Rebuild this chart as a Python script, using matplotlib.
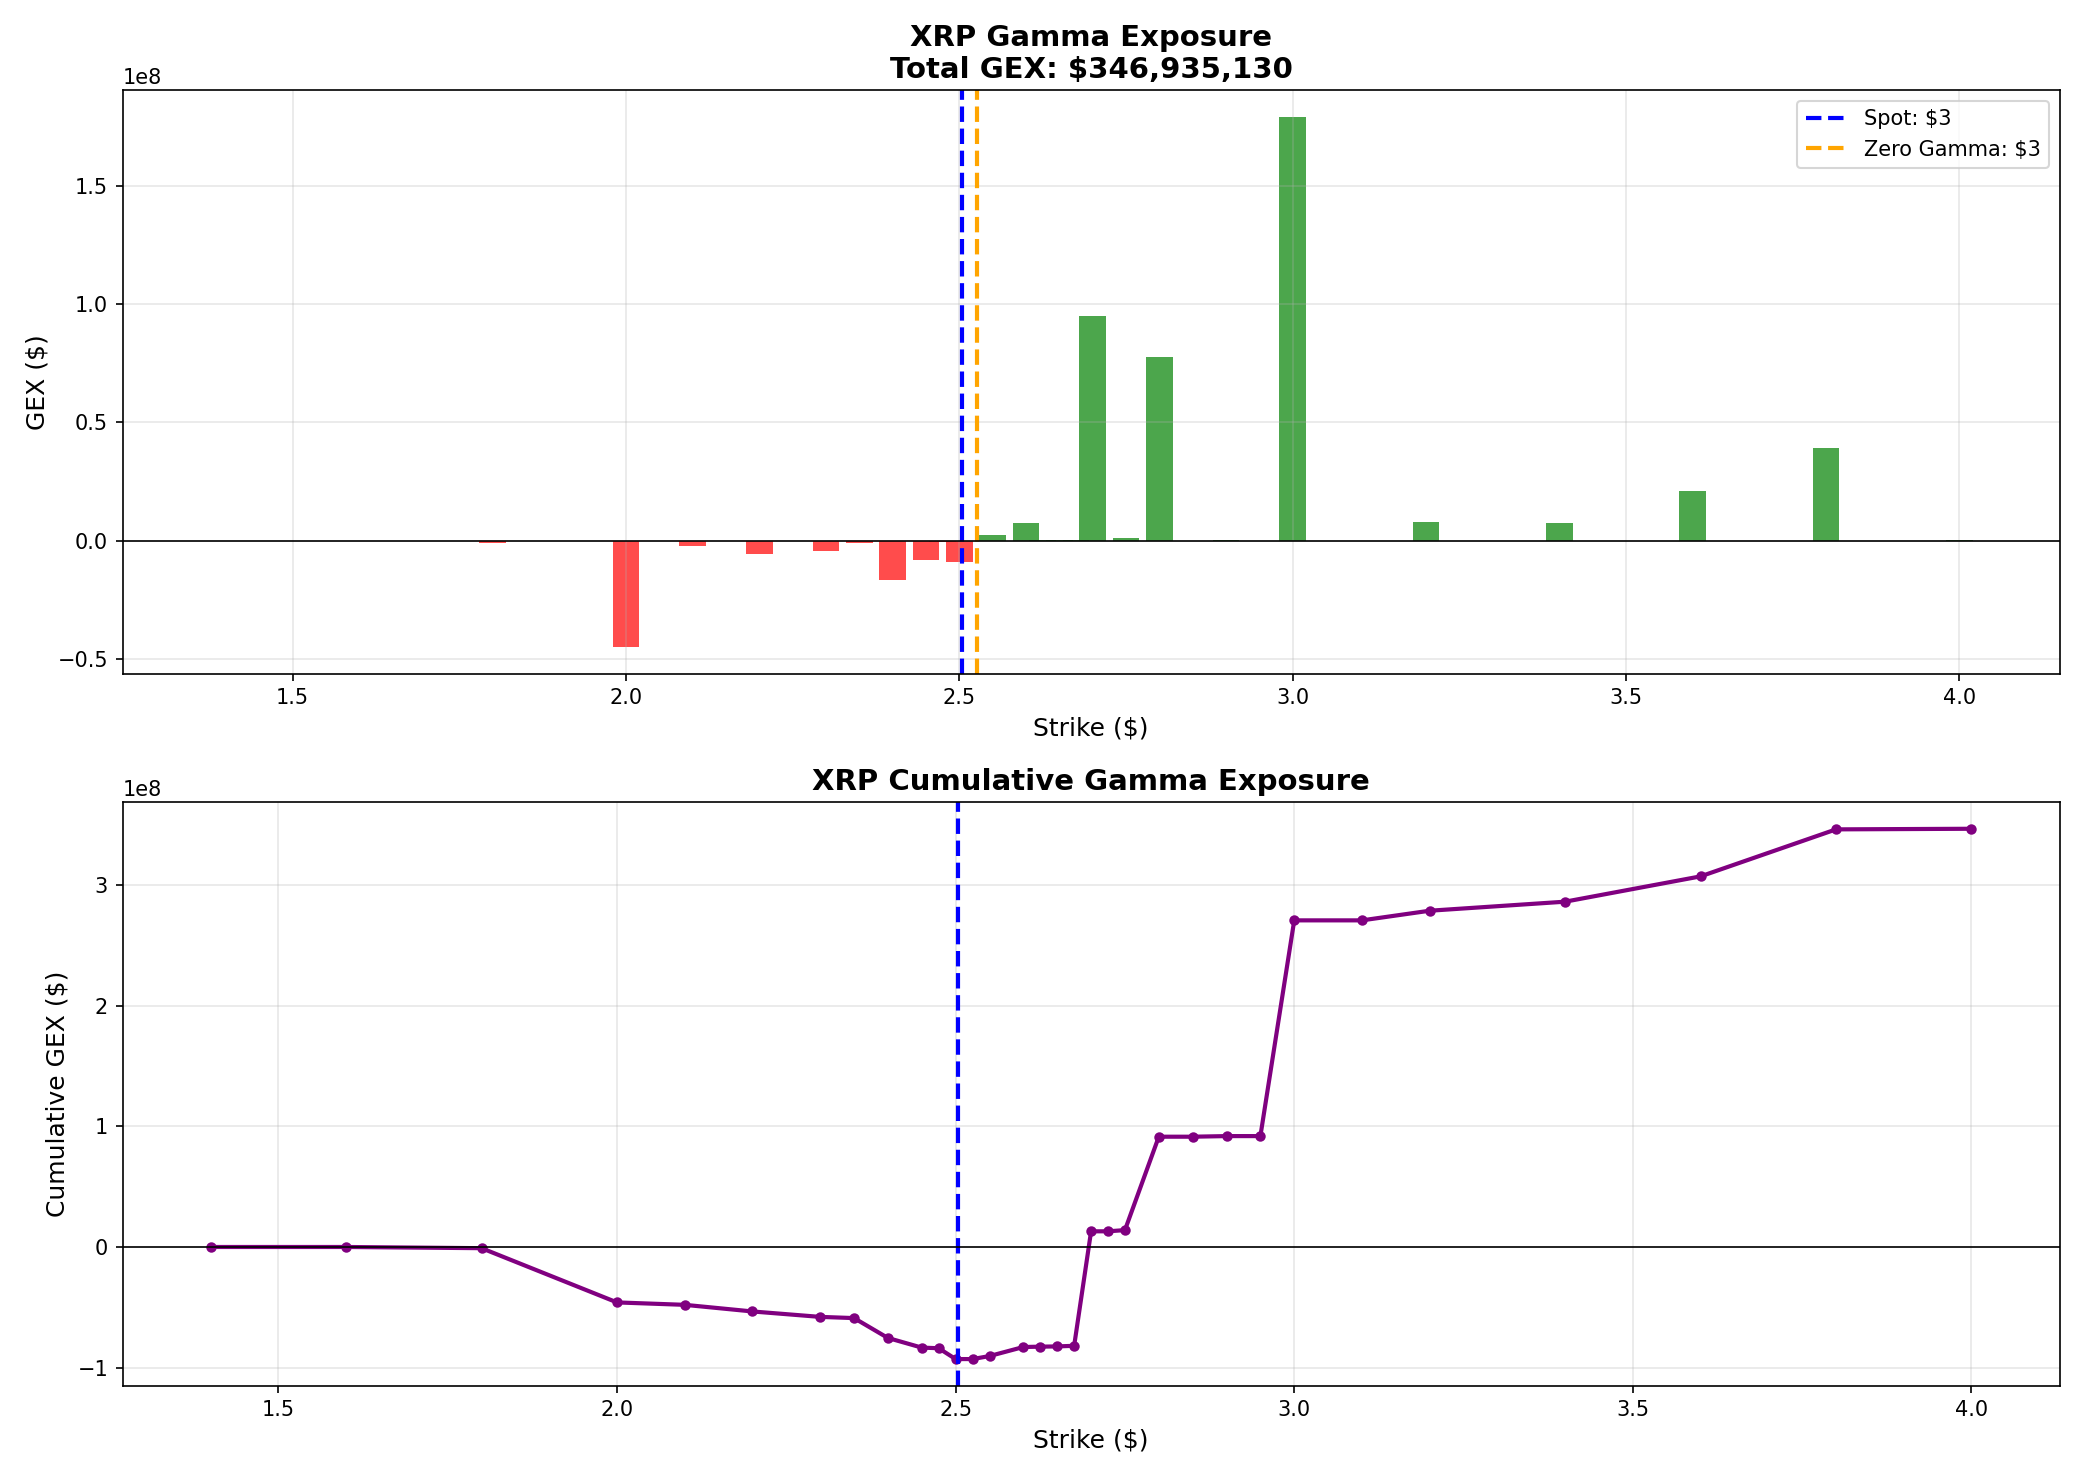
import numpy as np
import matplotlib
matplotlib.use('Agg')
import matplotlib.pyplot as plt

strikes = [1.4, 1.6, 1.8, 2.0, 2.1, 2.2, 2.3, 2.35, 2.4, 2.45, 2.475, 2.5, 2.525,
           2.55, 2.6, 2.625, 2.65, 2.675, 2.7, 2.725, 2.75, 2.8, 2.85, 2.9, 2.95,
           3.0, 3.1, 3.2, 3.4, 3.6, 3.8, 4.0]
gex = np.array([0.0, 0.0, -0.01, -0.45, -0.02, -0.055, -0.045, -0.01, -0.165, -0.08,
                -0.005, -0.09, 0.0, 0.025, 0.075, 0.003, 0.002, 0.005, 0.95, 0.0,
                0.01, 0.775, 0.0, 0.005, 0.0, 1.79, 0.0, 0.08, 0.075, 0.21, 0.39,
                0.005]) * 1e8
spot = 2.504
zero_gamma = 2.527
total_gex = 346935130

cum = np.cumsum(gex)
colors = ['green' if g >= 0 else 'red' for g in gex]

fig, (ax1, ax2) = plt.subplots(2, 1, figsize=(13.88, 9.86))

ax1.bar(strikes, gex, width=0.04, color=colors, alpha=0.7)
ax1.axvline(spot, color='blue', ls='--', lw=2, label=f'Spot: ${spot:.0f}')
ax1.axvline(zero_gamma, color='orange', ls='--', lw=2, label=f'Zero Gamma: ${zero_gamma:.0f}')
ax1.axhline(0, color='black', lw=0.8)
ax1.set_xlim(1.245, 4.15)
ax1.set_xlabel('Strike ($)', fontsize=12)
ax1.set_ylabel('GEX ($)', fontsize=12)
ax1.set_title(f'XRP Gamma Exposure\nTotal GEX: ${total_gex:,.0f}', fontsize=14, fontweight='bold')
ax1.legend()
ax1.grid(True, alpha=0.3)

ax2.plot(strikes, cum, color='purple', lw=2, marker='o', ms=4)
ax2.axvline(spot, color='blue', ls='--', lw=2)
ax2.axhline(0, color='black', lw=0.8)
ax2.set_xlabel('Strike ($)', fontsize=12)
ax2.set_ylabel('Cumulative GEX ($)', fontsize=12)
ax2.set_title('XRP Cumulative Gamma Exposure', fontsize=14, fontweight='bold')
ax2.grid(True, alpha=0.3)

plt.tight_layout()
plt.savefig('out.png', dpi=150)
